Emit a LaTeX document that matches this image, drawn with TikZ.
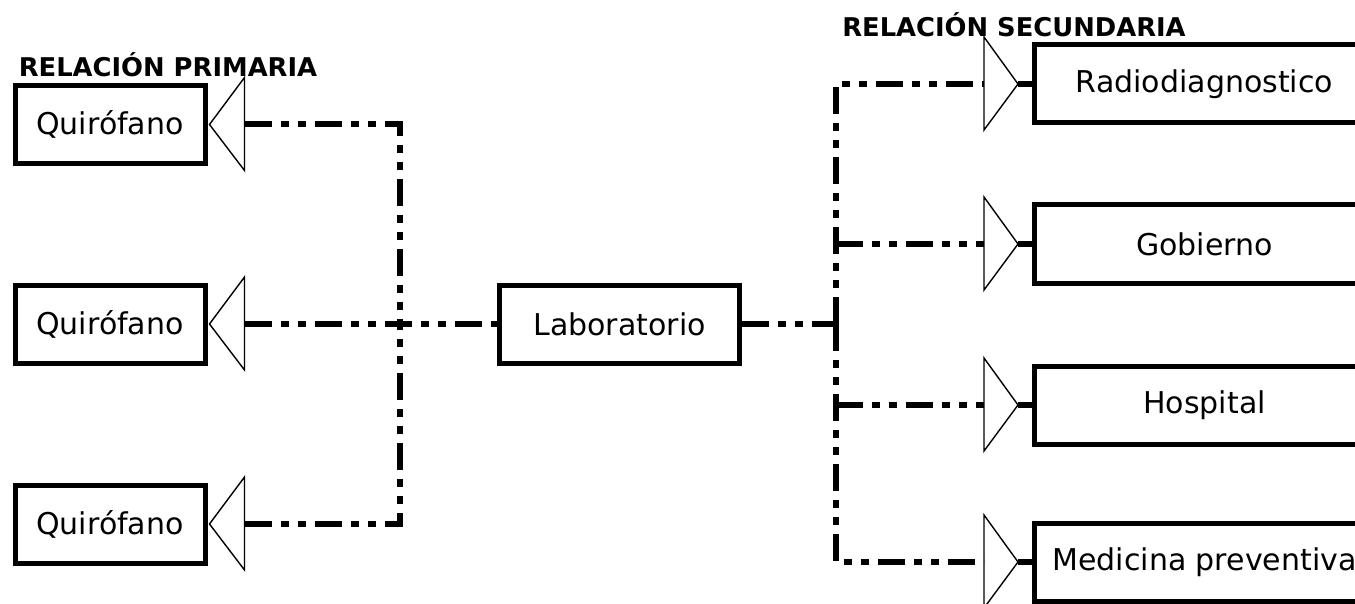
\documentclass[tikz,border=0pt]{standalone}
\usepackage{fontspec}
\setmainfont{DejaVu Sans}
\usetikzlibrary{calc}
\tikzset{
  unit/.style={draw, line width=5pt, rectangle, inner sep=0pt,
    minimum height=78pt, font=\fontsize{30}{36}\selectfont},
  leftunit/.style={unit, minimum width=190pt},
  rightunit/.style={unit, minimum width=340pt},
  labunit/.style={unit, minimum width=240pt},
  heading/.style={font=\fontsize{25.8}{30}\selectfont\bfseries, inner sep=0pt},
  flow/.style={line width=6pt, dash pattern=on 27pt off 9pt on 8pt off 9pt on 8pt off 9pt},
  tri/.style={draw, line width=1.4pt, line join=miter},
  stub/.style={line width=6pt}
}
\begin{document}
\begin{tikzpicture}[x=1pt,y=-1pt]
\useasboundingbox (0,0) rectangle (1355,604);
\clip (0,0) rectangle (1355,604);

% headings
\node[heading] (hp) at (168,65) {RELACIÓN PRIMARIA};
\node[heading] (hs) at (1014,25) {RELACIÓN SECUNDARIA};

% primary units
\node[leftunit] (q1) at (110,124.5) {Quirófano};
\node[leftunit] (q2) at (110,324) {Quirófano};
\node[leftunit] (q3) at (110,524) {Quirófano};

% central unit
\node[labunit] (lab) at (619.5,324) {Laboratorio};

% secondary units
\node[rightunit] (r1) at (1204.5,84) {Radiodiagnostico};
\node[rightunit] (r2) at (1204.5,244) {Gobierno};
\node[rightunit] (r3) at (1204.5,405) {Hospital};
\node[rightunit] (r4) at (1204.5,562) {Medicina preventiva};

% junctions of the dash-dot bus lines
\coordinate (jl) at (400,324);
\coordinate (jr) at (836,324);

% left triangles: tip on the box, base 35pt further out
\foreach \q in {q1,q2,q3}{
  \coordinate (\q t) at ($(\q.east)+(2,0)$);
  \coordinate (\q b) at ($(\q t)+(35,0)$);
  \draw[tri] (\q t) -- ($(\q b)+(0,-47)$) -- ($(\q b)+(0,46)$) -- cycle;
}

% right triangles with a short solid stub into the box
\foreach \r in {r1,r2,r3,r4}{
  \coordinate (\r t) at ($(\r.west)+(-14,0)$);
  \coordinate (\r b) at ($(\r t)+(-34,0)$);
  \draw[tri] (\r t) -- ($(\r b)+(0,-47)$) -- ($(\r b)+(0,46)$) -- cycle;
  \draw[stub] (\r t) -- (\r.west);
}

% primary connectors
\draw[flow] (q1b) -| (jl);
\draw[flow] (q3b) -| (jl);
\draw[flow] (q2b) -- (lab.west);

% secondary connectors
\draw[flow] (lab.east) -- (jr);
\draw[flow] (jr) |- (r1b);
\draw[flow] (jr) |- (r4b);
\draw[flow] (jr |- r2b) -- (r2b);
\draw[flow] (jr |- r3b) -- (r3b);
\end{tikzpicture}
\end{document}
